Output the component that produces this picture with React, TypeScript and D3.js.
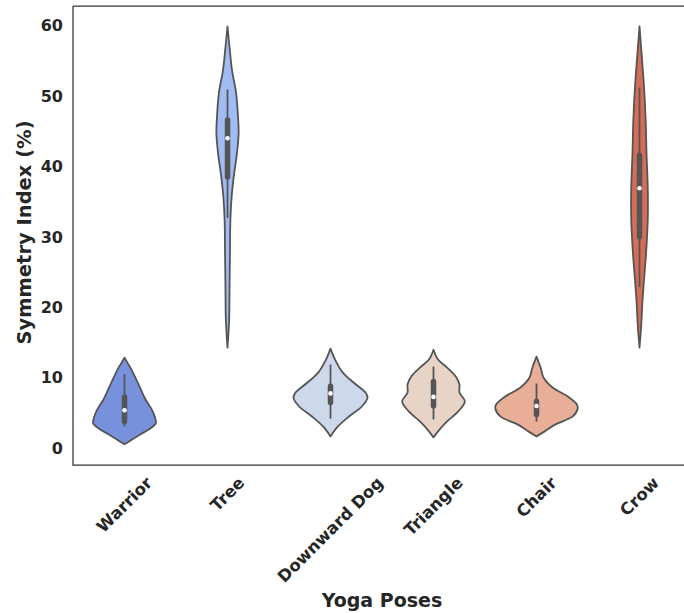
import React, { useEffect, useRef } from 'react';
import * as d3 from 'd3';

// Yoga poses (x categories)
const poses = ['Warrior', 'Tree', 'Downward Dog', 'Triangle', 'Chair', 'Crow'];

// violin fill colours (coolwarm, desaturated like seaborn does)
const poseColors = ['#7891dd', '#a0bcf3', '#ced8eb', '#e8d3c7', '#e9ae97', '#d56d58'];

// density outlines: [symmetry index, relative density]
const warriorDensity = [[12.88, 0], [12.17, 0.07], [11.18, 0.17], [9.34, 0.32], [6.93, 0.51], [5.52, 0.66], [4.39, 0.74], [3.54, 0.76], [2.69, 0.59], [1.84, 0.34], [1.13, 0.15], [0.57, 0]];
const treeDensity = [[59.86, 0], [56.89, 0.05], [53.63, 0.11], [50.38, 0.21], [46.56, 0.26], [44.72, 0.27], [41.89, 0.23], [38.49, 0.15], [35.66, 0.1], [32.41, 0.07], [27.74, 0.06], [22.93, 0.05], [18.26, 0.04], [14.29, 0]];
const downwardDogDensity = [[14.15, 0], [12.6, 0.11], [10.75, 0.3], [9.34, 0.56], [7.92, 0.85], [7.22, 0.9], [5.94, 0.76], [4.53, 0.45], [3.11, 0.18], [1.7, 0]];
const triangleDensity = [[14.0, 0], [12.6, 0.11], [11.46, 0.33], [10.19, 0.54], [9.06, 0.63], [7.92, 0.63], [6.65, 0.76], [5.24, 0.6], [3.82, 0.33], [2.69, 0.15], [1.56, 0]];
const chairDensity = [[13.02, 0], [11.46, 0.1], [10.05, 0.17], [8.63, 0.39], [7.36, 0.76], [6.23, 0.98], [5.66, 1.0], [4.53, 0.88], [3.4, 0.46], [2.41, 0.2], [1.7, 0]];
const crowDensity = [[59.86, 0], [56.04, 0.05], [51.23, 0.11], [46.56, 0.15], [41.89, 0.17], [37.07, 0.2], [32.41, 0.2], [27.74, 0.16], [23.92, 0.11], [20.66, 0.07], [17.26, 0.04], [14.29, 0]];
const densities = [warriorDensity, treeDensity, downwardDogDensity, triangleDensity, chairDensity, crowDensity];

// inner box stats
const whiskerLow = [3.1, 32.7, 4.2, 4.1, 3.8, 22.9];
const boxQ1 = [3.8, 38.5, 6.5, 6.0, 4.8, 30.0];
const medians = [5.4, 44.0, 7.8, 7.3, 6.0, 36.9];
const boxQ3 = [7.3, 46.6, 8.8, 9.5, 6.7, 41.6];
const whiskerHigh = [10.5, 50.9, 11.9, 11.6, 9.2, 51.2];

const yTicks = [0, 10, 20, 30, 40, 50, 60];
const yDomain = [-2.36, 62.76];

const width = 684;
const height = 613;
const font = '"DejaVu Sans", sans-serif';
const gray = '#555555';

const App = () => {
    const svgRef = useRef(null);

    useEffect(() => {
        const svg = d3.select(svgRef.current);
        svg.selectAll('*').remove();

        const left = 73, top = 6, bottom = 465;
        const right = left + 6 * 103; // right spine sits past the picture edge

        const x = d3.scaleBand().domain(poses).range([left, right]).padding(0);
        const y = d3.scaleLinear().domain(yDomain).range([bottom, top]);
        const w = d3.scaleLinear().domain([0, 1]).range([0, x.bandwidth() * 0.4]);
        const cx = (p) => x(p) + x.bandwidth() / 2;

        // violins
        poses.forEach((p, i) => {
            const area = d3.area()
                .y(d => y(d[0]))
                .x0(d => cx(p) - w(d[1]))
                .x1(d => cx(p) + w(d[1]))
                .curve(d3.curveCatmullRom.alpha(0.5));
            svg.append('path')
                .datum(densities[i])
                .attr('d', area)
                .attr('fill', poseColors[i])
                .attr('stroke', gray)
                .attr('stroke-width', 1.8)
                .attr('stroke-linejoin', 'round');

            // whisker
            svg.append('line')
                .attr('x1', cx(p)).attr('x2', cx(p))
                .attr('y1', y(whiskerLow[i])).attr('y2', y(whiskerHigh[i]))
                .attr('stroke', gray)
                .attr('stroke-width', 1.8);
            // box
            svg.append('line')
                .attr('x1', cx(p)).attr('x2', cx(p))
                .attr('y1', y(boxQ1[i])).attr('y2', y(boxQ3[i]))
                .attr('stroke', gray)
                .attr('stroke-width', 5.5)
                .attr('stroke-linecap', 'round');
            // median
            svg.append('circle')
                .attr('cx', cx(p))
                .attr('cy', y(medians[i]))
                .attr('r', 2.3)
                .attr('fill', 'white');
        });

        // spines
        const spine = svg.append('g').attr('stroke', '#333333').attr('stroke-width', 1.25).attr('fill', 'none');
        spine.append('path').attr('d', `M${left},${top}V${bottom}H${right}`);
        spine.append('path').attr('d', `M${left},${top}H${right}`);

        // y tick labels
        svg.append('g')
            .selectAll('text')
            .data(yTicks)
            .enter()
            .append('text')
            .attr('x', left - 10)
            .attr('y', d => y(d))
            .attr('dy', '0.35em')
            .attr('text-anchor', 'end')
            .style('font-family', font)
            .style('font-size', '16px')
            .style('font-weight', 'bold')
            .style('fill', '#262626')
            .text(d => d);

        // x tick labels, rotated 45 and centred on the tick like matplotlib
        const xl = svg.append('g');
        poses.forEach(p => {
            const t = xl.append('text')
                .attr('text-anchor', 'middle')
                .attr('dominant-baseline', 'central')
                .style('font-family', font)
                .style('font-size', '16.5px')
                .style('font-weight', 'bold')
                .style('fill', '#262626')
                .text(p);
            const tw = t.node().getComputedTextLength();
            const half = (tw + 17) * Math.SQRT1_2 / 2;
            const ty = bottom + 9 + half;
            t.attr('transform', `translate(${cx(p)},${ty}) rotate(-45)`);
        });

        // axis titles
        svg.append('text')
            .attr('x', (left + right) / 2)
            .attr('y', 607)
            .attr('text-anchor', 'middle')
            .style('font-family', font)
            .style('font-size', '19px')
            .style('font-weight', 'bold')
            .style('fill', '#262626')
            .text('Yoga Poses');

        svg.append('text')
            .attr('transform', `translate(31,${(top + bottom) / 2 - 3}) rotate(-90)`)
            .attr('text-anchor', 'middle')
            .style('font-family', font)
            .style('font-size', '19.5px')
            .style('font-weight', 'bold')
            .style('fill', '#262626')
            .text('Symmetry Index (%)');
    }, []);

    return (
        <svg
            ref={svgRef}
            width={width}
            height={height}
            style={{ position: 'absolute', left: 0, top: 0, background: 'white' }}
        ></svg>
    );
};

export default App;
